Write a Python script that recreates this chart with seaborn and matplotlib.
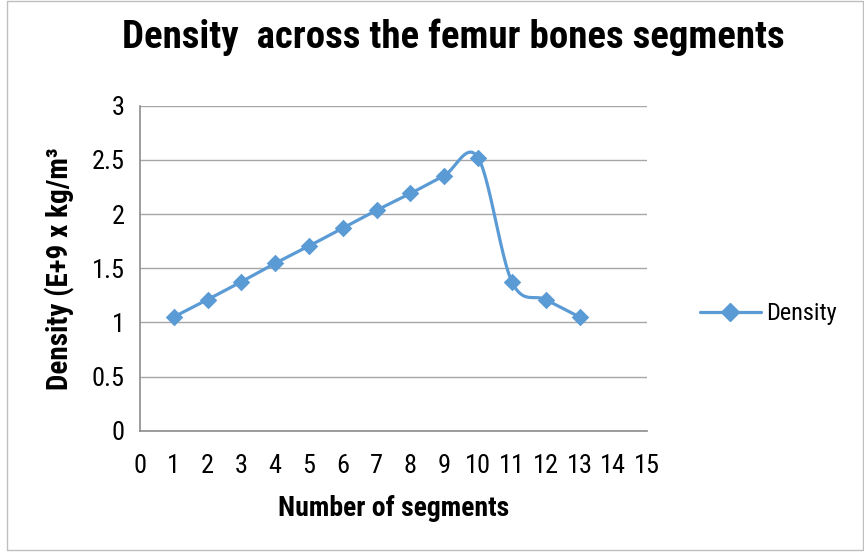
import numpy as np
import pandas as pd
import matplotlib
matplotlib.use("Agg")
import matplotlib.pyplot as plt
from matplotlib import font_manager
from matplotlib.lines import Line2D
from matplotlib.patches import Rectangle
import seaborn as sns

# --- data ---
segments = [1, 2, 3, 4, 5, 6, 7, 8, 9, 10, 11, 12, 13]
density = [1.05, 1.21, 1.375, 1.545, 1.705, 1.87, 2.035, 2.19, 2.355, 2.52, 1.375, 1.21, 1.05]
x_ticks = list(range(0, 16))
y_ticks = [0, 0.5, 1, 1.5, 2, 2.5, 3]
y_tick_labels = ["0", "0.5", "1", "1.5", "2", "2.5", "3"]

title = "Density  across the femur bones segments"
x_label = "Number of segments"
y_label = "Density (E+9 x kg/m³"
series_name = "Density"

BLUE = "#5B9BD5"

sns.set_theme(style="white")

# narrow font like Excel's Arial Narrow, first one we have
names = {f.name for f in font_manager.fontManager.ttflist}
fam = "Liberation Sans"
for cand in ["Arial Narrow", "Liberation Sans Narrow", "Roboto Condensed",
             "PT Sans Narrow", "Archivo Narrow", "Asap Condensed"]:
    if cand in names:
        fam = cand
        break
plt.rcParams["font.family"] = [fam, "DejaVu Sans"]
plt.rcParams["text.color"] = "black"


def smooth_curve(xs, ys, n=40):
    """Excel-style smoothed line: cubic bezier with catmull-rom control points."""
    pts = np.column_stack([xs, ys]).astype(float)
    out = []
    for i in range(len(pts) - 1):
        p0 = pts[max(i - 1, 0)]
        p1 = pts[i]
        p2 = pts[i + 1]
        p3 = pts[min(i + 2, len(pts) - 1)]
        c1 = p1 + (p2 - p0) / 6.0
        c2 = p2 - (p3 - p1) / 6.0
        t = np.linspace(0, 1, n)[:, None]
        seg = ((1 - t) ** 3) * p1 + 3 * ((1 - t) ** 2) * t * c1 + 3 * (1 - t) * t ** 2 * c2 + t ** 3 * p2
        out.append(seg if i == 0 else seg[1:])
    return np.vstack(out)


curve = smooth_curve(segments, density)
curve_df = pd.DataFrame({"x": curve[:, 0], "y": curve[:, 1]})
pts_df = pd.DataFrame({"x": segments, "y": density})

fig = plt.figure(figsize=(8.64, 5.54), dpi=100)
ax = fig.add_axes([0.162, 0.2226, 0.587, 0.5866])

sns.lineplot(data=curve_df, x="x", y="y", sort=False, estimator=None,
             color=BLUE, linewidth=2.3, ax=ax, legend=False)
sns.scatterplot(data=pts_df, x="x", y="y", marker="D", s=80, color=BLUE,
                edgecolor=BLUE, linewidth=0, ax=ax, legend=False, zorder=3)

ax.set_xlim(0, 15)
ax.set_ylim(0, 3)
ax.set_xticks(x_ticks)
ax.set_yticks(y_ticks)
ax.set_yticklabels(y_tick_labels)
ax.tick_params(axis="both", length=0, labelsize=19, colors="black")
ax.tick_params(axis="x", pad=17)
ax.tick_params(axis="y", pad=11)

ax.yaxis.grid(True, color="#A6A6A6", linewidth=1.0)
ax.xaxis.grid(False)
for side in ["top", "right"]:
    ax.spines[side].set_visible(False)
for side in ["left", "bottom"]:
    ax.spines[side].set_color("#8C8C8C")
    ax.spines[side].set_linewidth(1.2)

ax.set_xlabel(x_label, fontsize=20, fontweight="bold", labelpad=12, color="black")
ax.set_ylabel(y_label, fontsize=21, fontweight="bold", labelpad=12, color="black")
fig.text(0.525, 0.933, title, fontsize=28, fontweight="bold", ha="center", va="center",
         color="black")

handle = Line2D([], [], color=BLUE, linewidth=2.3, marker="D", markersize=9)
fig.legend([handle], [series_name], loc="center left", bbox_to_anchor=(0.785, 0.434),
           frameon=False, fontsize=17.5, handlelength=2.5, handletextpad=0.2,
           labelcolor="black")

# chart area border
fig.patches.append(Rectangle((0.008, 0.007), 0.991, 0.992, transform=fig.transFigure,
                             fill=False, edgecolor="#BFBFBF", linewidth=1.0))

fig.savefig("out.png", dpi=100)
